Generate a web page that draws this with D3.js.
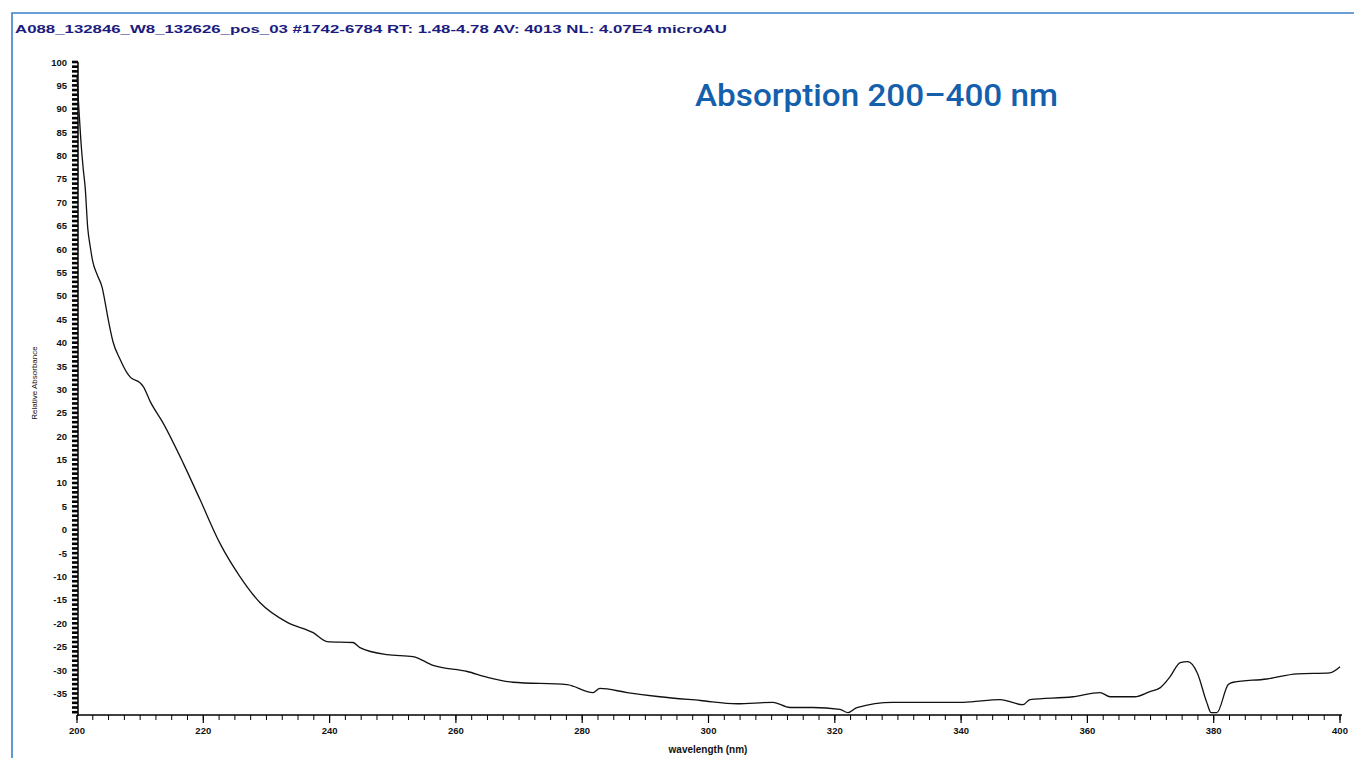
<!DOCTYPE html>
<html>
<head>
<meta charset="utf-8">
<script src="https://cdn.jsdelivr.net/npm/d3@7"></script>
<style>
  body { margin: 0; background: #fff; }
  svg { display: block; }
</style>
</head>
<body>
<svg id="chart" width="1354" height="758"></svg>
<script>
// Spectrum values (wavelength nm, absorbance microAU)
const wavelengths = [200, 200.3, 200.7, 201.0, 201.3, 201.7, 202.1, 202.5, 203.2, 204.0, 204.4, 204.8, 205.7,
  206.8, 207.9, 208.4, 210.0, 210.5, 211.6, 213.6, 216.8, 219.5, 222.6, 225.8, 229.0, 233.3, 237.4, 239.6,
  243.7, 244.8, 249.1, 253.2, 256.4, 261.8, 264.9, 269.0, 277.6, 281.7, 282.8, 287.1, 292.3, 298.7, 304.5,
  310.2, 312.9, 316.5, 320.8, 322.1, 323.5, 329.2, 336.2, 340.3, 346.2, 349.8, 350.9, 357.7, 362.0, 363.6,
  367.5, 369.9, 371.5, 373.1, 374.7, 375.9, 377.4, 378.9, 379.6, 380.5, 382.3, 383.1, 388.4, 393.2, 398.4, 400];
const absorbance = [97, 90, 81.6, 77, 73.1, 64.5, 60.5, 57.3, 54.5, 51.7, 49, 46.0, 40.2,
  36.5, 33.6, 32.7, 31.4, 30.6, 27.4, 22.9, 14.3, 6.4, -2.8, -10.0, -15.6, -19.8, -22.0, -23.9,
  -24.1, -25.2, -26.7, -27.1, -29.0, -30.3, -31.5, -32.6, -33.1, -34.8, -33.9, -34.8, -35.7, -36.5, -37.2,
  -36.9, -38.0, -38.0, -38.4, -39.1, -38.0, -36.9, -36.9, -36.9, -36.3, -37.4, -36.3, -35.7, -34.8, -35.7,
  -35.7, -34.6, -33.8, -31.4, -28.4, -28.2, -30.6, -36.9, -39.1, -39.1, -33.1, -32.6, -31.9, -30.8, -30.6, -29.3];

// Tick labels
const xTicks = [200, 220, 240, 260, 280, 300, 320, 340, 360, 380, 400];
const yTicks = [100, 95, 90, 85, 80, 75, 70, 65, 60, 55, 50, 45, 40, 35, 30, 25, 20, 15, 10, 5, 0,
  -5, -10, -15, -20, -25, -30, -35];

const headerText = "A088_132846_W8_132626_pos_03 #1742-6784   RT: 1.48-4.78   AV: 4013   NL: 4.07E4   microAU";
const titleText = "Absorption 200\u2013400 nm";

const svg = d3.select("#chart");

// Blue frame
svg.append("path")
  .attr("d", "M12,758 L12,13 L1354,13")
  .attr("fill", "none")
  .attr("stroke", "#3b7fc8")
  .attr("stroke-width", 1.6);

// Header line
svg.append("text")
  .attr("x", 15)
  .attr("y", 33)
  .attr("font-family", "Liberation Sans, Arial, sans-serif")
  .attr("font-size", 10)
  .attr("font-weight", "bold")
  .attr("fill", "#1c1c80")
  .attr("textLength", 712)
  .attr("lengthAdjust", "spacingAndGlyphs")
  .text(headerText);

// Scales
const x = d3.scaleLinear().domain([200, 400]).range([77, 1340]);
const y = d3.scaleLinear().domain([-39.6, 100]).range([715, 62]);

// Y axis: dense minor ticks make a comb bar
const yAxisG = svg.append("g").attr("transform", "translate(78,0)");
yAxisG.append("line")
  .attr("y1", y(100)).attr("y2", 716)
  .attr("stroke", "#000").attr("stroke-width", 1.5);
yAxisG.selectAll(".minor")
  .data(d3.range(-39, 101, 1))
  .join("line")
  .attr("class", "minor")
  .attr("x1", -6).attr("x2", 0)
  .attr("y1", d => y(d)).attr("y2", d => y(d))
  .attr("stroke", "#000").attr("stroke-width", 2.6);
yAxisG.selectAll(".lbl")
  .data(yTicks)
  .join("text")
  .attr("class", "lbl")
  .attr("x", -11)
  .attr("y", d => y(d) + 3.5)
  .attr("text-anchor", "end")
  .attr("font-family", "Liberation Sans, Arial, sans-serif")
  .attr("font-size", 9.5)
  .attr("font-weight", "bold")
  .attr("fill", "#111")
  .text(d => d);

// X axis
const xAxisG = svg.append("g").attr("transform", "translate(0,715)");
xAxisG.append("line")
  .attr("x1", x(200)).attr("x2", x(400) + 2)
  .attr("stroke", "#000").attr("stroke-width", 1.6);
xAxisG.selectAll(".minor")
  .data(d3.range(200, 401, 2.5))
  .join("line")
  .attr("class", "minor")
  .attr("x1", d => x(d)).attr("x2", d => x(d))
  .attr("y1", 0).attr("y2", 5)
  .attr("stroke", "#000").attr("stroke-width", 1);
xAxisG.selectAll(".major")
  .data(xTicks)
  .join("line")
  .attr("class", "major")
  .attr("x1", d => x(d)).attr("x2", d => x(d))
  .attr("y1", 0).attr("y2", 8)
  .attr("stroke", "#000").attr("stroke-width", 1.2);
xAxisG.selectAll(".lbl")
  .data(xTicks)
  .join("text")
  .attr("class", "lbl")
  .attr("x", d => x(d))
  .attr("y", 19)
  .attr("text-anchor", "middle")
  .attr("font-family", "Liberation Sans, Arial, sans-serif")
  .attr("font-size", 9.5)
  .attr("font-weight", "bold")
  .attr("fill", "#111")
  .text(d => d);

// Axis titles
svg.append("text")
  .attr("x", 708)
  .attr("y", 753)
  .attr("text-anchor", "middle")
  .attr("font-family", "Liberation Sans, Arial, sans-serif")
  .attr("font-size", 10)
  .attr("font-weight", "bold")
  .attr("fill", "#111")
  .text("wavelength (nm)");

svg.append("text")
  .attr("transform", "translate(37,383) rotate(-90)")
  .attr("text-anchor", "middle")
  .attr("font-family", "Liberation Sans, Arial, sans-serif")
  .attr("font-size", 8)
  .attr("fill", "#111")
  .text("Relative Absorbance");

// Spectrum line
const points = wavelengths.map((w, i) => [w, absorbance[i]]);
const line = d3.line().x(d => x(d[0])).y(d => y(d[1])).curve(d3.curveMonotoneX);
svg.append("path")
  .datum(points)
  .attr("d", line)
  .attr("fill", "none")
  .attr("stroke", "#111")
  .attr("stroke-width", 1.3);

// Title
svg.append("text")
  .attr("x", 695)
  .attr("y", 106)
  .attr("font-family", "Roboto, Liberation Sans, Arial, sans-serif")
  .attr("font-size", 31)
  .attr("font-weight", 500)
  .attr("fill", "#1560ad")
  .attr("textLength", 363)
  .attr("lengthAdjust", "spacingAndGlyphs")
  .text(titleText);
</script>
</body>
</html>
